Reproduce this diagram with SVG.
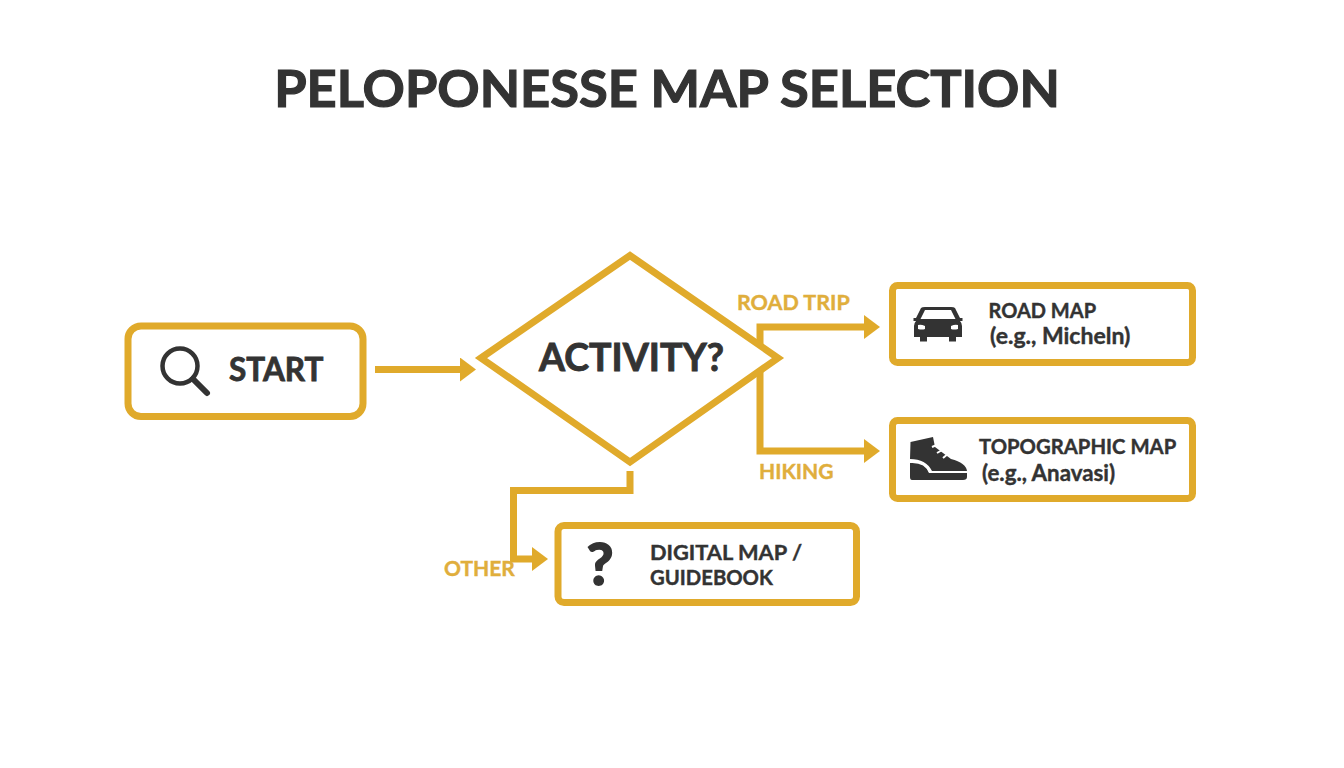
<svg xmlns="http://www.w3.org/2000/svg" width="1344" height="768" viewBox="0 0 1344 768">
<style>
.box{fill:#fff;stroke:#e0aa2b;stroke-width:7}
.line{fill:none;stroke:#e0aa2b;stroke-width:7;stroke-linejoin:miter}
.t{font-family:Lato,"Liberation Sans",sans-serif;font-weight:700;fill:#333;stroke:#333;stroke-width:.4}
.l{font-family:Lato,"Liberation Sans",sans-serif;font-weight:700;fill:#e0ae3c;stroke:#e0ae3c;stroke-width:.4;font-size:21px}
.ic{fill:#333}
</style>
<defs>
<marker id="arrow" markerUnits="userSpaceOnUse" markerWidth="16" markerHeight="24" refX="6" refY="12" orient="auto"><path d="M0 0L16 12L0 24Z" fill="#e0aa2b"/></marker>
</defs>
<rect width="1344" height="768" fill="#fff"/>
<text id="title" class="t" style="stroke-width:1.2" x="667" y="107" font-size="52.400" text-anchor="middle">PELOPONESSE MAP SELECTION</text>
<g id="connectors">
<path class="line" d="M375 369.500H466" marker-end="url(#arrow)"/>
<path class="line" d="M760 345V327H870" marker-end="url(#arrow)"/>
<path class="line" d="M760 372V451H870" marker-end="url(#arrow)"/>
<path class="line" d="M630 471V490.500H513.500V559H538" marker-end="url(#arrow)"/>
<text class="l" x="737" y="310" style="font-size:21.500px">ROAD TRIP</text>
<text class="l" x="759" y="479">HIKING</text>
<text class="l" x="444" y="576">OTHER</text>
</g>
<g id="start">
<rect class="box" x="128" y="326" width="235" height="90.500" rx="13"/>
<circle cx="180" cy="366" r="17.500" fill="none" stroke="#333" stroke-width="4.500"/>
<path d="M193 379L207 393" stroke="#333" stroke-width="6" stroke-linecap="round"/>
<text class="t" style="stroke-width:.8" x="229" y="381" font-size="31.500">START</text>
</g>
<g id="activity">
<path class="box" stroke-miterlimit="10" d="M481 358L630 255.500L778 358L630 462Z"/>
<text class="t" style="stroke-width:.9" x="631.500" y="371" font-size="37.500" text-anchor="middle">ACTIVITY?</text>
</g>
<g id="road-map">
<rect class="box" x="892.500" y="285.500" width="300" height="77" rx="5"/>
<path class="ic" fill-rule="evenodd" d="M921 308Q922 307 925 307H951Q954 307 955 308L960 318H962.500V321H960Q962 323 962 326V337H956V341.500H949V337H927V341.500H920V337H914V326Q914 323 916 321H913.500V318H916ZM925 310L920.500 319H955.500L951 310ZM918 325V329Q922 330 925 329V326Q921 324 918 325ZM958 325Q955 324 951 326V329Q954 330 958 329Z"/>
<text class="t" x="988.500" y="318" font-size="20">ROAD MAP</text>
<text class="t" x="990" y="344" font-size="23">(e.g., Micheln)</text>
</g>
<g id="topographic-map">
<rect class="box" x="892.500" y="420.500" width="300" height="78" rx="5"/>
<path class="ic" d="M910.500 442L933 437L935 447L951 459Q966 463 967 471H932Q926 459 910 459ZM910 463Q925 462 929 473H967V477Q967 480 963 480H912Q910 480 910 477Z"/>
<path d="M910 461Q925 460 930 472H967" fill="none" stroke="#fff" stroke-width="2"/>
<path d="M932 447L939 444M937 453L944 449M943 458L949 453" stroke="#fff" stroke-width="2" fill="none"/>
<text class="t" x="979" y="454" font-size="20.300">TOPOGRAPHIC MAP</text>
<text class="t" x="982" y="480.500" font-size="22.300">(e.g., Anavasi)</text>
</g>
<g id="digital-map">
<rect class="box" x="558" y="525.500" width="298.500" height="77" rx="6"/>
<text class="t" style="stroke-width:2" x="600" y="585" font-size="58" text-anchor="middle">?</text>
<text class="t" x="650" y="559.500" font-size="21.800">DIGITAL MAP /</text>
<text class="t" x="650" y="584.500" font-size="20.300">GUIDEBOOK</text>
</g>
</svg>
